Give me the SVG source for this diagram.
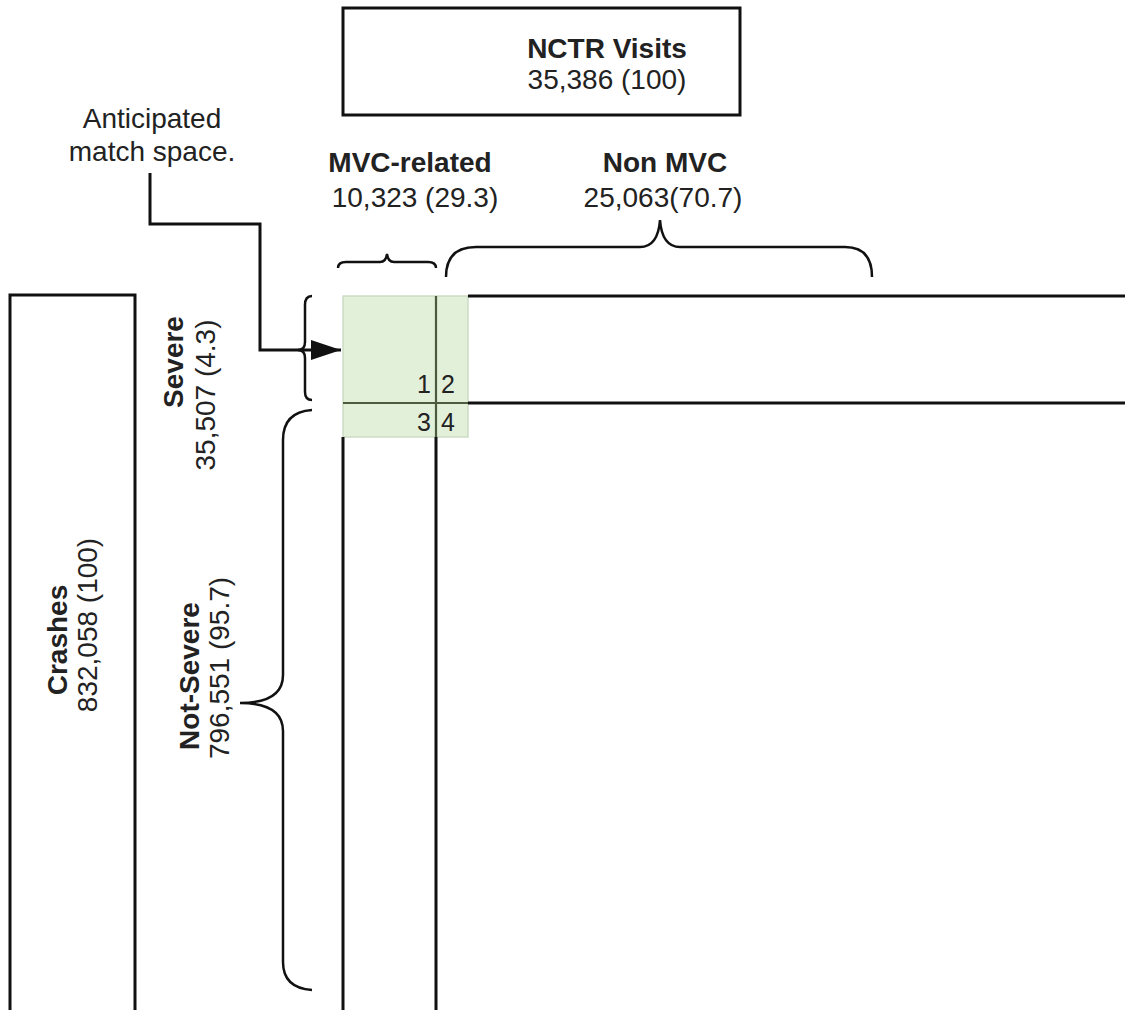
<svg xmlns="http://www.w3.org/2000/svg" width="1125" height="1010" viewBox="0 0 1125 1010">
<style>
.t{font-family:"Liberation Sans",Arial,sans-serif;font-size:28px;fill:#222}
.b{font-weight:bold}
.ln{stroke:#111;stroke-width:3;fill:none}
.br{stroke:#111;stroke-width:2.5;fill:none}
.gl{stroke:#4d5a3d;stroke-width:2.2;fill:none}
.num{font-family:"Liberation Sans",Arial,sans-serif;font-size:25px;fill:#222}
</style>
<defs>
<marker id="ah" markerWidth="30" markerHeight="20" refX="30" refY="10" orient="auto" markerUnits="userSpaceOnUse" viewBox="0 0 30 20">
<polygon points="0,0 30,10 0,20" fill="#111"/>
</marker>
</defs>
<rect width="1125" height="1010" fill="#fff"/>
<g id="nctr">
<rect x="343" y="8" width="397" height="107" class="ln"/>
<text x="607" y="58" text-anchor="middle" class="t b">NCTR Visits</text>
<text x="607" y="89" text-anchor="middle" class="t">35,386 (100)</text>
</g>
<g id="crashes">
<path d="M10,1012 V295 H135 V1012" class="ln"/>
<text transform="translate(67,640) rotate(-90)" text-anchor="middle" class="t b">Crashes</text>
<text transform="translate(97,625) rotate(-90)" text-anchor="middle" class="t">832,058 (100)</text>
</g>
<g id="anticipated">
<text x="152" y="128" text-anchor="middle" class="t">Anticipated</text>
<text x="152" y="161" text-anchor="middle" class="t">match space.</text>
</g>
<g id="mvc">
<text x="410" y="172" text-anchor="middle" class="t b">MVC-related</text>
<text x="415" y="207" text-anchor="middle" class="t">10,323 (29.3)</text>
</g>
<g id="nonmvc">
<text x="665" y="172" text-anchor="middle" class="t b">Non MVC</text>
<text x="663" y="207" text-anchor="middle" class="t">25,063(70.7)</text>
</g>
<g id="severe">
<text transform="translate(183,362) rotate(-90)" text-anchor="middle" class="t b">Severe</text>
<text transform="translate(215,395) rotate(-90)" text-anchor="middle" class="t">35,507 (4.3)</text>
</g>
<g id="notsevere">
<text transform="translate(199,676) rotate(-90)" text-anchor="middle" class="t b">Not-Severe</text>
<text transform="translate(229,668) rotate(-90)" text-anchor="middle" class="t">796,551 (95.7)</text>
</g>
<g id="matrix">
<rect x="343" y="296" width="125" height="141" fill="#e2efd9" stroke="#cddcc4" stroke-width="1.5"/>
<line x1="436" y1="296" x2="436" y2="437" class="gl"/>
<line x1="343" y1="403" x2="468" y2="403" class="gl"/>
<line x1="468" y1="296" x2="1125" y2="296" class="ln"/>
<line x1="468" y1="403" x2="1125" y2="403" class="ln"/>
<line x1="343" y1="437" x2="343" y2="1012" class="ln"/>
<line x1="436" y1="437" x2="436" y2="1012" class="ln"/>
<text x="431" y="393" text-anchor="end" class="num">1</text>
<text x="441" y="393" class="num">2</text>
<text x="431" y="431" text-anchor="end" class="num">3</text>
<text x="441" y="431" class="num">4</text>
</g>
<g id="connectors">
<path d="M150,173 V224 H260 V350 H341" class="ln" marker-end="url(#ah)"/>
<path d="M338,268 Q338,262 346,262 H380 Q386,262 387,254 Q388,262 394,262 H428 Q436,262 436,268" class="br"/>
<path d="M446,277 Q446,247 476,247 H640 Q658,247 660,220 Q662,247 680,247 H845 Q872,247 872,277" class="br"/>
<path d="M312,296 Q305,296 305,305 V342 Q305,350 298,350 Q305,350 305,358 V392 Q305,400 312,400" class="br"/>
<path d="M312,410 Q283,412 283,440 V675 Q283,703 240,703 Q283,703 283,731 V962 Q283,988 312,990" class="br"/>
</g>
</svg>
